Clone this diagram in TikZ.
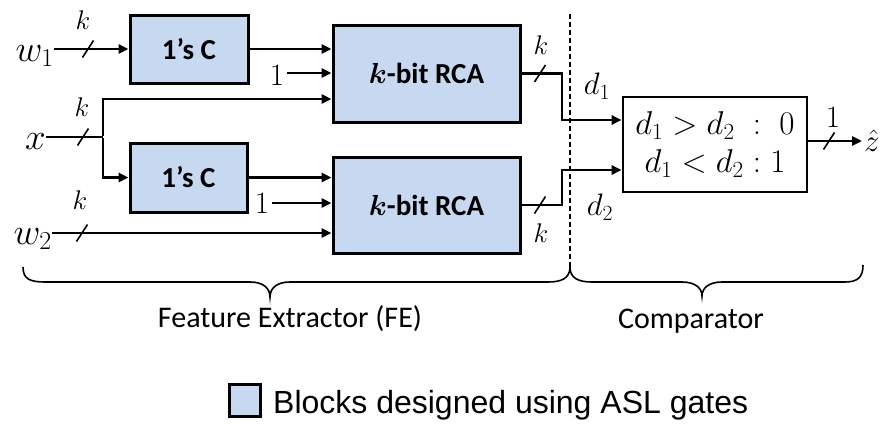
\RequirePackage{fix-cm}
\documentclass[tikz,border=0pt]{standalone}
\usepackage{amsmath}
\usepackage{fontspec}
\usetikzlibrary{arrows.meta,calc}
\newfontfamily\calib{Carlito}
\newfontfamily\arialf{Liberation Sans}
\definecolor{blockfill}{RGB}{199,217,240}

\tikzset{
  blockbox/.style={draw, line width=3pt, fill=blockfill, inner sep=0pt,
    font=\calib\bfseries\fontsize{29}{33}\selectfont},
  cmpbox/.style={draw, line width=2.6pt, fill=white, inner sep=0pt, align=center,
    font=\fontsize{33}{39}\selectfont},
  wire/.style={line width=2.8pt},
  arr/.style={wire, -{Triangle[length=10pt,width=9pt]}},
  lbl/.style={inner sep=0pt, font=\fontsize{31}{34}\selectfont},
  klbl/.style={inner sep=0pt, font=\fontsize{27}{30}\selectfont},
  inlbl/.style={inner sep=0pt, font=\fontsize{37}{40}\selectfont},
  brace/.style={line width=1.6pt},
  bus/.pic={\draw[line width=1.6pt] (-5.5,8.5) -- (5.5,-8.5);}
}

\begin{document}
\begin{tikzpicture}[x=1pt,y=-1pt]
\useasboundingbox (0,0) rectangle (883,426);

% --- blocks ---
\node[blockbox, minimum width=118pt, minimum height=68pt] (onec1) at (189,49) {1’s C};
\node[blockbox, minimum width=117pt, minimum height=69pt] (onec2) at (188.5,177.5) {1’s C};
\node[blockbox, minimum width=187pt, minimum height=97pt] (rca1) at (426.5,73.5)
  {$\boldsymbol{k}$-bit RCA};
\node[blockbox, minimum width=187pt, minimum height=96pt] (rca2) at (426.5,205)
  {$\boldsymbol{k}$-bit RCA};
\node[cmpbox, minimum width=184pt, minimum height=95pt] (cmp) at (715,144.5)
  {$d_1 > d_2 \;:\; 0$\\[-1pt] $d_1 < d_2 : 1$};

% --- inputs ---
\node[inlbl, anchor=base east] (w1) at (54,61) {$w_1$};
\node[inlbl, anchor=base east] (xin) at (46,149) {$x$};
\node[inlbl, anchor=base east] (w2) at (52,244) {$w_2$};
\node[lbl] (one1) at (277,76) {$1$};
\node[lbl] (one2) at (262,204) {$1$};

\coordinate (split) at (103,137);
\coordinate (j1) at (562,120);
\coordinate (j2) at (562,170);

% --- connectors ---
\draw[arr] (w1.east |- onec1.west) -- (onec1.west);
\draw[arr] (onec1.east) -- (onec1.east -| rca1.west);
\draw[arr] ([xshift=3pt,yshift=3pt]one1.east) -- (rca1.west |- 0,73);
\draw[wire] (xin.east |- split) -- (split);
\draw[arr] ([yshift=1.4pt]split) |- (rca1.west |- 0,99);
\draw[arr] ([yshift=-1.4pt]split) |- (onec2.west);
\draw[arr] (onec2.east) -- (onec2.east -| rca2.west);
\draw[arr] ([xshift=3pt]one2.east |- 0,203) -- (rca2.west |- 0,203);
\draw[arr] (w2.east |- 0,233) -- (rca2.west |- 0,233);

\draw[arr] (rca1.east) -| (j1) -- (cmp.west |- j1);
\draw[arr] (rca2.east) -| (j2) -- (cmp.west |- j2);

\node[lbl, anchor=west, inner sep=0pt] (zhat) at (864,141) {$\hat{z}$};
\draw[arr] (cmp.east |- zhat.west) -- ([xshift=-2pt]zhat.west);

% --- bus width marks ---
\pic at (88,49) {bus};
\pic at (83,137) {bus};
\pic at (82,233) {bus};
\pic at (540,73.5) {bus};
\pic at (540,205) {bus};
\pic at (829,141) {bus};

\node[klbl] (k1) at (83,20) {$k$};
\node[klbl] (k2) at (82,107) {$k$};
\node[klbl] (k3) at (80,200) {$k$};
\node[klbl] (k4) at (541,45) {$k$};
\node[klbl] (k5) at (541,233) {$k$};
\node[lbl] (one3) at (833,118) {$1$};
\node[lbl] (d1) at (597,86) {$d_1$};
\node[lbl] (d2) at (600,207) {$d_2$};

% --- partition line and braces ---
\draw[dashed, line width=1.3pt, dash pattern=on 5pt off 3pt] (570,14) -- (570,267);
\draw[brace] (23,267) .. controls (23,279) and (30,282) .. (45,282) -- (250,282)
  .. controls (263,282) and (270,288) .. (270,297)
  .. controls (270,288) and (277,282) .. (290,282) -- (548,282)
  .. controls (562,282) and (570,278) .. (570,267);
\draw[brace] (570,267) .. controls (570,278) and (578,282) .. (592,282) -- (682,282)
  .. controls (695,282) and (702,288) .. (702,296)
  .. controls (702,288) and (709,282) .. (722,282) -- (845,282)
  .. controls (858,282) and (863,277) .. (863,265);

\node[anchor=base, inner sep=0pt, font=\calib\fontsize{30}{34}\selectfont] (fe) at (290,327)
  {Feature Extractor (FE)};
\node[anchor=base, inner sep=0pt, font=\calib\fontsize{30}{34}\selectfont] (cmplbl) at (691,328)
  {Comparator};

% --- legend ---
\node[draw, line width=3.2pt, fill=blockfill, minimum width=31pt, minimum height=32pt,
  inner sep=0pt] (leg) at (245,400.5) {};
\node[anchor=base west, inner sep=0pt, font=\arialf\fontsize{32}{36}\selectfont] (legtext)
  at (273,413) {Blocks designed using ASL gates};
\end{tikzpicture}
\end{document}
